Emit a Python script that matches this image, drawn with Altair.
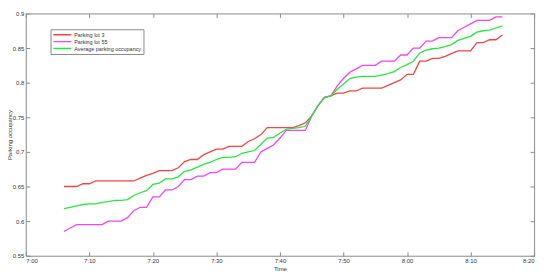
import altair as alt
import pandas as pd

# minutes after 7:00 (one sample per minute, 7:06 .. 8:15)
minutes = list(range(6, 76))

lot3 = [0.650, 0.650, 0.650, 0.654, 0.654, 0.658, 0.658, 0.658, 0.658, 0.658,
        0.658, 0.658, 0.662, 0.666, 0.669, 0.673, 0.673, 0.673, 0.677, 0.686,
        0.689, 0.689, 0.696, 0.700, 0.704, 0.704, 0.708, 0.708, 0.708, 0.715,
        0.719, 0.725, 0.735, 0.735, 0.735, 0.735, 0.735, 0.738, 0.742, 0.752,
        0.767, 0.779, 0.781, 0.785, 0.785, 0.788, 0.788, 0.792, 0.792, 0.792,
        0.792, 0.796, 0.800, 0.804, 0.812, 0.812, 0.831, 0.831, 0.835, 0.835,
        0.838, 0.842, 0.846, 0.846, 0.846, 0.858, 0.858, 0.862, 0.862, 0.869]

lot55 = [0.585, 0.590, 0.595, 0.595, 0.595, 0.595, 0.595, 0.600, 0.600, 0.600,
         0.605, 0.615, 0.620, 0.620, 0.635, 0.635, 0.645, 0.645, 0.650, 0.660,
         0.660, 0.665, 0.665, 0.670, 0.670, 0.675, 0.675, 0.675, 0.685, 0.685,
         0.685, 0.700, 0.705, 0.710, 0.720, 0.731, 0.731, 0.731, 0.731, 0.752,
         0.767, 0.779, 0.781, 0.795, 0.806, 0.815, 0.820, 0.825, 0.825, 0.825,
         0.831, 0.831, 0.831, 0.840, 0.840, 0.850, 0.850, 0.860, 0.860, 0.865,
         0.865, 0.865, 0.875, 0.880, 0.885, 0.890, 0.890, 0.890, 0.895, 0.895]

avg = [0.618, 0.620, 0.622, 0.624, 0.625, 0.625, 0.627, 0.628, 0.630, 0.630,
       0.631, 0.637, 0.641, 0.644, 0.653, 0.655, 0.661, 0.661, 0.664, 0.672,
       0.674, 0.678, 0.682, 0.685, 0.689, 0.692, 0.692, 0.693, 0.698, 0.700,
       0.702, 0.711, 0.720, 0.721, 0.727, 0.733, 0.734, 0.735, 0.737, 0.752,
       0.767, 0.778, 0.781, 0.790, 0.798, 0.806, 0.808, 0.809, 0.809, 0.809,
       0.811, 0.813, 0.816, 0.822, 0.826, 0.831, 0.843, 0.847, 0.849, 0.850,
       0.852, 0.855, 0.861, 0.864, 0.867, 0.873, 0.875, 0.876, 0.879, 0.882]

series_names = ["Parking lot 3", "Parking lot 55", "Average parking occupancy"]
series_colors = ["#f04545", "#f045f0", "#2ae444"]

x_ticks = [0, 10, 20, 30, 40, 50, 60, 70, 80]
y_ticks = [0.55, 0.6, 0.65, 0.7, 0.75, 0.8, 0.85, 0.9]

rows = []
for name, vals in zip(series_names, [lot3, lot55, avg]):
    for m, v in zip(minutes, vals):
        rows.append({"minute": m, "occupancy": v, "series": name})
df = pd.DataFrame(rows)

FONT = "Liberation Sans"
AX = "#8a8a8a"
TXT = "#333333"
time_expr = ("floor((420+datum.value)/60) + ':' + "
             "(((420+datum.value)%60) < 10 ? '0' : '') + ((420+datum.value)%60)")

x_scale = alt.Scale(domain=[0, 80], nice=False, zero=False)
y_scale = alt.Scale(domain=[0.55, 0.9], nice=False, zero=False)

tick_style = dict(domain=False, grid=False, offset=-4, tickSize=4,
                  tickColor=AX, tickWidth=1)
text_style = dict(labelFont=FONT, labelFontSize=6, labelColor=TXT,
                  titleFont=FONT, titleFontSize=6, titleColor=TXT,
                  titleFontWeight="normal")

lines = alt.Chart(df).mark_line(strokeWidth=1.3).encode(
    x=alt.X("minute:Q", scale=x_scale,
            axis=alt.Axis(title="Time", orient="bottom", values=x_ticks,
                          labelExpr=time_expr, labelPadding=2, titlePadding=2,
                          **tick_style, **text_style)),
    y=alt.Y("occupancy:Q", scale=y_scale,
            axis=alt.Axis(title="Parking occupancy", orient="left",
                          values=y_ticks, format=".2~f", labelPadding=2,
                          titlePadding=0, **tick_style, **text_style)),
    color=alt.Color("series:N",
                    scale=alt.Scale(domain=series_names, range=series_colors),
                    sort=series_names,
                    legend=alt.Legend(title=None, orient="none", legendX=25,
                                      legendY=16, symbolType="stroke",
                                      symbolSize=324, symbolStrokeWidth=1.5,
                                      clipHeight=7, rowPadding=0,
                                      labelFont=FONT, labelFontSize=5.5,
                                      labelColor=TXT, labelOffset=2,
                                      padding=2, strokeColor=AX,
                                      fillColor="white", cornerRadius=0)),
)

frame_axes = alt.Chart(df).mark_line(opacity=0).encode(
    x=alt.X("minute:Q", scale=x_scale,
            axis=alt.Axis(title=None, orient="top", values=x_ticks,
                          labels=False, **tick_style)),
    y=alt.Y("occupancy:Q", scale=y_scale,
            axis=alt.Axis(title=None, orient="right", values=y_ticks,
                          labels=False, **tick_style)),
    detail="series:N",
)

chart = alt.layer(frame_axes, lines).resolve_axis(
    x="independent", y="independent"
).properties(
    width=514, height=245,
    autosize=alt.AutoSizeParams(type="none"),
    padding={"left": 18, "top": 4, "right": 8, "bottom": 20},
    background="white",
).configure_view(stroke=AX, strokeWidth=1)

chart.save("out.html", embed_options={"renderer": "svg", "actions": False})
